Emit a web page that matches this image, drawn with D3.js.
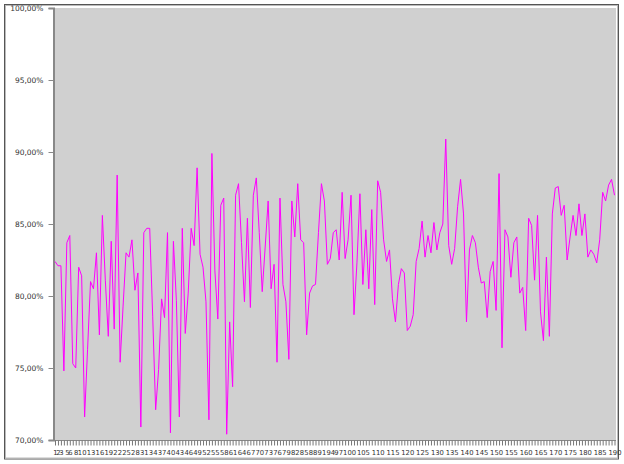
<!DOCTYPE html>
<html>
<head>
<meta charset="utf-8">
<script src="https://cdn.jsdelivr.net/npm/d3@7"></script>
<style>
  html, body { margin: 0; padding: 0; background: #fff; }
  svg { display: block; }
</style>
</head>
<body>
<svg id="chart" width="624" height="464"></svg>
<script>
// ---- data ----
const categories = d3.range(1, 191).map(String);

const values = [
  82.4, 82.1, 82.1, 74.8, 83.7, 84.2, 75.3, 75.0, 82.0, 81.4,
  71.6, 76.3, 81.0, 80.5, 83.0, 77.3, 85.6, 81.1, 77.2, 83.8,
  77.7, 88.4, 75.4, 79.3, 83.0, 82.7, 83.9, 80.4, 81.6, 70.9,
  84.4, 84.7, 84.7, 78.6, 72.1, 74.9, 79.8, 78.5, 84.4, 70.5,
  83.8, 79.7, 71.6, 84.7, 77.4, 80.2, 84.7, 83.5, 88.9, 82.9,
  82.0, 79.6, 71.4, 89.9, 81.8, 78.4, 86.3, 86.8, 70.4, 78.2,
  73.7, 87.0, 87.8, 83.7, 79.6, 85.4, 79.2, 87.0, 88.2, 84.4,
  80.3, 83.4, 86.6, 80.5, 82.2, 75.4, 86.8, 80.8, 79.6, 75.6,
  86.6, 84.1, 87.8, 83.9, 83.7, 77.3, 80.2, 80.7, 80.8, 84.4,
  87.8, 86.6, 82.2, 82.6, 84.4, 84.6, 82.5, 87.2, 82.6, 83.9,
  87.0, 78.7, 82.3, 87.1, 80.8, 84.6, 80.5, 86.0, 79.4, 88.0,
  87.2, 83.9, 82.4, 83.2, 79.8, 78.2, 80.8, 81.9, 81.6, 77.6,
  77.9, 78.7, 82.4, 83.3, 85.2, 82.7, 84.2, 83.0, 85.1, 83.2,
  84.4, 85.0, 90.9, 83.5, 82.2, 83.3, 86.2, 88.1, 85.7, 78.2,
  83.2, 84.2, 83.7, 82.0, 80.9, 81.0, 78.5, 81.7, 82.4, 79.0,
  88.5, 76.4, 84.6, 84.1, 81.3, 83.7, 84.1, 80.2, 80.6, 77.6,
  85.4, 84.9, 81.1, 85.6, 78.9, 76.9, 82.7, 77.2, 85.7, 87.5,
  87.6, 85.6, 86.3, 82.5, 84.1, 85.6, 84.2, 86.4, 84.2, 85.7,
  82.7, 83.2, 82.9, 82.3, 83.9, 87.2, 86.6, 87.7, 88.1, 87.0
];

const xTickLabels = ["1","2","3","5","6","8"]
  .concat(d3.range(10, 100, 3).map(String))
  .concat(d3.range(100, 191, 5).map(String));

const yTickValues = [0.70, 0.75, 0.80, 0.85, 0.90, 0.95, 1.00];

// ---- layout ----
const svg = d3.select("#chart");
const plot = { left: 54, right: 616, top: 8, bottom: 440 };

// outer frame
svg.append("rect")
  .attr("x", 4.5).attr("y", 4.5).attr("width", 614).attr("height", 454.5)
  .attr("fill", "none").attr("stroke", "#555").attr("stroke-width", 1);
svg.append("rect")
  .attr("x", 5.5).attr("y", 5.5).attr("width", 612).attr("height", 452.5)
  .attr("fill", "none").attr("stroke", "#bbb").attr("stroke-width", 1);

// plot background
svg.append("rect")
  .attr("x", plot.left).attr("y", plot.top)
  .attr("width", plot.right - plot.left).attr("height", plot.bottom - plot.top)
  .attr("fill", "#d0d0d0");

const x = d3.scalePoint().domain(categories).range([55, 614.5]);
const y = d3.scaleLinear().domain([0.70, 1.00]).range([plot.bottom, plot.top]);

const locale = d3.formatLocale({ decimal: ",", thousands: ".", grouping: [3], currency: ["", "€"] });
const pct = locale.format(".2%");

// y axis
const yAxis = svg.append("g")
  .attr("transform", `translate(${plot.left - 0.5},0)`)
  .call(d3.axisLeft(y).tickValues(yTickValues).tickFormat(pct).tickSize(5).tickPadding(5));
yAxis.select(".domain").attr("stroke", "#888").attr("stroke-width", 2);
yAxis.selectAll(".tick line").attr("stroke", "#888");
yAxis.selectAll("text").attr("font-family", "DejaVu Sans").attr("font-size", 7.5).attr("fill", "#333");

// x axis
const labelSet = new Set(xTickLabels);
const xAxis = svg.append("g")
  .attr("transform", `translate(0,${plot.bottom + 0.5})`)
  .call(d3.axisBottom(x).tickSize(5).tickPadding(5).tickSizeOuter(0)
    .tickFormat(d => labelSet.has(d) ? d : ""));
xAxis.select(".domain").attr("stroke", "#888").attr("d", `M${plot.left - 1},0H${plot.right}`);
xAxis.selectAll(".tick line").attr("stroke", "#777");
xAxis.selectAll("text")
  .attr("font-family", "DejaVu Sans").attr("font-size", 6.8).attr("fill", "#333")
  .attr("dx", d => d === "97" ? -1 : (d === "100" ? 1 : 0));

// line
const line = d3.line()
  .x((d, i) => x(categories[i]))
  .y(d => y(d / 100));
svg.append("path")
  .datum(values)
  .attr("d", line)
  .attr("fill", "none")
  .attr("stroke", "#ff00ff")
  .attr("stroke-width", 1);
</script>
</body>
</html>
